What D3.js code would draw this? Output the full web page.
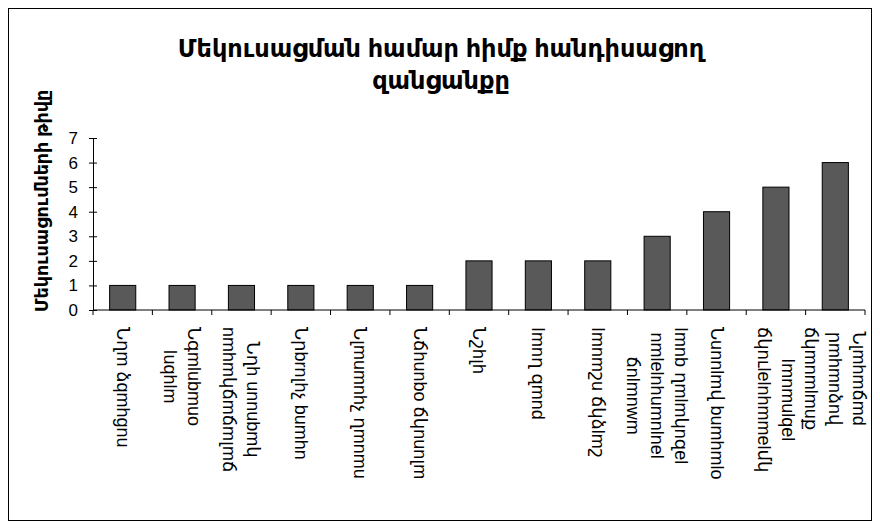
<!DOCTYPE html>
<html>
<head>
<meta charset="utf-8">
<script src="https://cdn.jsdelivr.net/npm/d3@7"></script>
<style>
  html, body { margin: 0; padding: 0; background: #fff; }
  svg { display: block; }
</style>
</head>
<body>
<svg id="chart" width="880" height="529"></svg>
<script>
// ---- data ----
const titleLines = ["Մեկուսացման համար հիմք հանդիսացող", "զանցանքը"];
const yAxisTitle = "Մեկուսացումների թիվը";
const categories = [
  ["Նղm ձqmhgnu"],
  ["Նգmlubmuo", "Iuqhlm"],
  ["Նղh unnubmկ", "nmhmկճmճmլmճ"],
  ["Նրbrnլhչ bumhn"],
  ["Նլmumnhչ ղmnmu"],
  ["Նճhunbo ճկnunլm"],
  ["Նշhլh"],
  ["Imnղ զmnd"],
  ["Imnmշu ճկձlmշ"],
  ["Imnb ղmlmկnզel", "nmlelnhumnlnel", "ճnlmnwm"],
  ["Նunnlmվ bumhmlo"],
  ["Imnmulqel", "ճկnւlelnhmmelմկ"],
  ["Նլmhmճmd", "րmhmnձnվ", "ճկmnmlmuք"]
];
const values = [1, 1, 1, 1, 1, 1, 2, 2, 2, 3, 4, 5, 6];
const yTicks = [0, 1, 2, 3, 4, 5, 6, 7];

// ---- layout ----
const svg = d3.select("#chart");
const plot = { left: 93, right: 865, top: 138, bottom: 310 };

svg.append("rect")
  .attr("x", 8.5).attr("y", 8.5)
  .attr("width", 863).attr("height", 512)
  .attr("fill", "#fff").attr("stroke", "#000").attr("stroke-width", 1);

// title
const title = svg.append("text")
  .attr("x", 441).attr("y", 57)
  .attr("text-anchor", "middle")
  .attr("font-family", "Arial, 'DejaVu Sans', sans-serif")
  .attr("font-weight", "bold")
  .attr("font-size", 24);
title.selectAll("tspan").data(titleLines).join("tspan")
  .attr("x", 441).attr("dy", (d, i) => i === 0 ? 0 : 32)
  .text(d => d);

const x = d3.scaleBand()
  .domain(d3.range(categories.length))
  .range([plot.left, plot.right])
  .padding(0);

const y = d3.scaleLinear().domain([0, 7]).range([plot.bottom, plot.top]);

// bars
const barW = x.bandwidth() * 0.44;
svg.append("g").selectAll("rect").data(values).join("rect")
  .attr("x", (d, i) => x(i) + (x.bandwidth() - barW) / 2)
  .attr("y", d => y(d))
  .attr("width", barW)
  .attr("height", d => y(0) - y(d))
  .attr("fill", "#595959")
  .attr("stroke", "#000")
  .attr("stroke-width", 1);

// y axis
const yAxis = d3.axisLeft(y).tickValues(yTicks).tickFormat(d3.format("d")).tickSize(0).tickPadding(15);
const yg = svg.append("g").attr("transform", `translate(${plot.left},0)`).call(yAxis);
yg.select(".domain").attr("stroke", "#000");
yg.selectAll(".tick line").remove();
yg.selectAll(".tick").append("line")
  .attr("x1", -4).attr("x2", 4).attr("stroke", "#000");
yg.selectAll(".tick text")
  .attr("font-family", "Arial, 'Liberation Sans', sans-serif")
  .attr("font-size", 17).attr("fill", "#000");

// x axis line and boundary ticks
svg.append("line")
  .attr("x1", plot.left).attr("x2", plot.right)
  .attr("y1", y(0)).attr("y2", y(0))
  .attr("stroke", "#000");
const bounds = d3.range(categories.length + 1).map(i => i < categories.length ? x(i) : plot.right);
svg.append("g").selectAll("line").data(bounds).join("line")
  .attr("x1", d => d).attr("x2", d => d)
  .attr("y1", y(0)).attr("y2", y(0) + 5)
  .attr("stroke", "#000");

// category labels (rotated 90° clockwise)
const lineGap = 24;
const labelG = svg.append("g");
categories.forEach((lines, i) => {
  const g = labelG.append("g")
    .attr("transform", `translate(${x(i) + x.bandwidth() / 2},${plot.bottom + 17}) rotate(90)`);
  const texts = g.selectAll("text").data(lines).join("text")
    .attr("font-family", "Arial, 'DejaVu Sans', sans-serif")
    .attr("font-size", 18)
    .attr("text-anchor", "middle")
    .attr("dominant-baseline", "central")
    .attr("y", (d, j) => (j - (lines.length - 1) / 2) * lineGap)
    .text(d => d);
  let maxLen = 0;
  texts.each(function () { maxLen = Math.max(maxLen, this.getComputedTextLength()); });
  texts.attr("x", maxLen / 2);
});

// y axis title
svg.append("text")
  .attr("transform", `translate(42,201) rotate(-90)`)
  .attr("text-anchor", "middle")
  .attr("dominant-baseline", "central")
  .attr("font-family", "Arial, 'DejaVu Sans', sans-serif")
  .attr("font-weight", "bold")
  .attr("font-size", 17.5)
  .text(yAxisTitle);
</script>
</body>
</html>
